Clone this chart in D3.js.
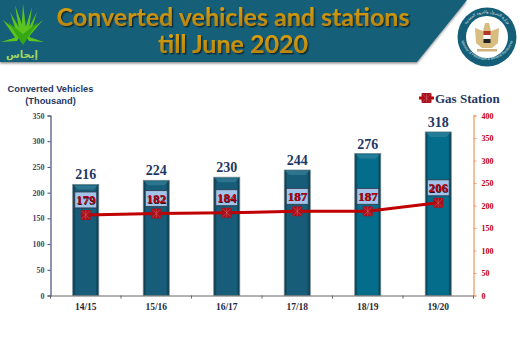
<!DOCTYPE html>
<html lang="en">
<head>
<meta charset="UTF-8">
<title>Converted vehicles and stations</title>
<script src="https://d3js.org/d3.v7.min.js"></script>
<style>
    html, body { margin: 0; padding: 0; background: #fff; }
    svg { display: block; }
    text { font-family: "Liberation Serif", serif; }
</style>
</head>
<body>
<svg id="chart" width="520" height="360"></svg>
<script>
    const seasons = ["14/15", "15/16", "16/17", "17/18", "18/19", "19/20"];
    const vehicles = [216, 224, 230, 244, 276, 318];
    const stations = [179, 182, 184, 187, 187, 206];
    const vehicleTicks = [0, 50, 100, 150, 200, 250, 300, 350];
    const stationTicks = [0, 50, 100, 150, 200, 250, 300, 350, 400];
    const titleLines = ["Converted vehicles and stations", "till June 2020"];

    const plotLeft = 50.5, plotRight = 473.5, plotTop = 115.5, plotBottom = 295.5;
    const svg = d3.select("#chart");
    const defs = svg.append("defs");

    // bar shading, dark at the edges
    function barGradient(id, mid) {
        const g = defs.append("linearGradient").attr("id", id);
        g.append("stop").attr("offset", "0%").attr("stop-color", "#0c2f3e");
        g.append("stop").attr("offset", "12%").attr("stop-color", mid);
        g.append("stop").attr("offset", "88%").attr("stop-color", mid);
        g.append("stop").attr("offset", "100%").attr("stop-color", "#08303f");
    }
    barGradient("barOld", "#175c78");
    barGradient("barNew", "#046d8c");

    const shadow = defs.append("filter").attr("id", "titleShadow")
        .attr("x", "-5%").attr("y", "-20%").attr("width", "110%").attr("height", "140%");
    shadow.append("feDropShadow").attr("dx", 1.5).attr("dy", 1.5).attr("stdDeviation", 0.6)
        .attr("flood-color", "#0a2530").attr("flood-opacity", 0.9);

    const headerShadow = defs.append("filter").attr("id", "headerShadow")
        .attr("x", "-2%").attr("y", "-5%").attr("width", "104%").attr("height", "115%");
    headerShadow.append("feDropShadow").attr("dx", 0).attr("dy", 1.5).attr("stdDeviation", 0.8)
        .attr("flood-color", "#000").attr("flood-opacity", 0.45);

    const titleGold = defs.append("linearGradient").attr("id", "titleGold")
        .attr("x1", 0).attr("y1", 0).attr("x2", 0).attr("y2", 1);
    titleGold.append("stop").attr("offset", "0%").attr("stop-color", "#e0a80f");
    titleGold.append("stop").attr("offset", "100%").attr("stop-color", "#b07f08");

    // header banner
    svg.append("path").attr("d", "M0,0H467L417,62H0Z")
        .attr("fill", "#155e78").attr("filter", "url(#headerShadow)");

    svg.selectAll(".title").data(titleLines).enter().append("text")
        .attr("class", "title")
        .attr("x", 233).attr("y", (d, i) => 25.5 + i * 27.5)
        .attr("text-anchor", "middle")
        .attr("fill", "url(#titleGold)")
        .attr("filter", "url(#titleShadow)")
        .style("font-family", "Lato, sans-serif")
        .style("font-weight", "700")
        .style("font-size", "25px")
        .text(d => d);

    // green logo, top left
    const logo = svg.append("g");
    const spikes = [
        "M3,20L23,36L16,39Z", "M10,12L25,38L18,38Z", "M15,5L26,36L20,36Z", "M23,4L27,36L21,36Z",
        "M32,7L28,37L23,36Z", "M37,12L29,38L24,37Z", "M43,20L27,39L22,37Z", "M1,42L20,36L17,41Z", "M44,42L26,36L29,41Z"
    ];
    logo.selectAll(".spike").data(spikes).enter().append("path")
        .attr("d", d => d).attr("fill", "#5cc41f");
    logo.append("path").attr("d", "M8,22L23,45L38,22L23,34Z").attr("fill", "#37a814");
    logo.append("text").attr("x", 22).attr("y", 58).attr("text-anchor", "middle")
        .attr("fill", "#a4d65e").style("font-family", "DejaVu Sans, sans-serif")
        .style("font-size", "10px").style("font-weight", "700").text("إيجاس");

    // ministry emblem, top right
    const emblem = svg.append("g").attr("transform", "translate(487,37)");
    emblem.append("circle").attr("r", 29.5).attr("fill", "#155e78");
    emblem.append("circle").attr("r", 21).attr("fill", "#fff");
    defs.append("path").attr("id", "ringTop").attr("d", "M-24,8A25,25 0 1 1 24,8");
    defs.append("path").attr("id", "ringBottom").attr("d", "M-27,-4A27,27 0 0 0 27,-4");
    emblem.append("text").attr("fill", "#dfe9ee").style("font-size", "4px")
        .style("font-family", "DejaVu Sans, sans-serif")
        .append("textPath").attr("href", "#ringTop").attr("startOffset", "50%").attr("text-anchor", "middle")
        .text("وزارة البترول والثروة المعدنية");
    emblem.append("text").attr("fill", "#dfe9ee").style("font-size", "3.6px")
        .style("font-family", "Liberation Sans, sans-serif")
        .append("textPath").attr("href", "#ringBottom").attr("startOffset", "50%").attr("text-anchor", "middle")
        .text("Ministry of Petroleum & Mineral Resources");
    emblem.append("path").attr("d", "M-12,-9L-4,-6L-2,-14L2,-14L4,-6L12,-9L11,6L5,11L-5,11L-11,6Z").attr("fill", "#d8bd80");
    emblem.append("rect").attr("x", -3.5).attr("y", -6).attr("width", 7).attr("height", 4).attr("fill", "#b5342a");
    emblem.append("rect").attr("x", -3.5).attr("y", -2).attr("width", 7).attr("height", 4).attr("fill", "#fff");
    emblem.append("rect").attr("x", -3.5).attr("y", 2).attr("width", 7).attr("height", 4).attr("fill", "#222");
    emblem.append("rect").attr("x", -10).attr("y", 12).attr("width", 20).attr("height", 2.5).attr("fill", "#cdb27a");

    // scales
    const x = d3.scaleBand().domain(seasons).range([plotLeft, plotRight]);
    const yLeft = d3.scaleLinear().domain([0, 350]).range([plotBottom, plotTop]);
    const yRight = d3.scaleLinear().domain([0, 400]).range([plotBottom, plotTop]);
    const barW = 26;
    const cx = d => x(d) + x.bandwidth() / 2;

    // y axis title
    svg.selectAll(".ytitle").data(["Converted Vehicles", "(Thousand)"]).enter().append("text")
        .attr("class", "ytitle")
        .attr("x", 50.5).attr("y", (d, i) => 92 + i * 11.5)
        .attr("text-anchor", "middle").attr("fill", "#1f3864")
        .style("font-family", "Liberation Sans, sans-serif")
        .style("font-weight", "700").style("font-size", "9.3px")
        .text(d => d);

    // bars
    svg.selectAll(".bar").data(seasons).enter().append("rect")
        .attr("class", "bar")
        .attr("x", d => cx(d) - barW / 2)
        .attr("y", (d, i) => yLeft(vehicles[i]))
        .attr("width", barW)
        .attr("height", (d, i) => plotBottom - yLeft(vehicles[i]))
        .attr("fill", (d, i) => i < 4 ? "url(#barOld)" : "url(#barNew)")
        .attr("stroke", "#6f8790").attr("stroke-width", 0.8);

    // little bevel at the top of each bar
    svg.selectAll(".bevel").data(seasons).enter().append("path")
        .attr("class", "bevel")
        .attr("d", (d, i) => {
            const t = yLeft(vehicles[i]) + 1;
            const c = cx(d);
            return `M${c - barW / 2 + 1},${t}H${c + barW / 2 - 1}L${c + barW / 2 - 5},${t + 4}H${c - barW / 2 + 5}Z`;
        })
        .attr("fill", "#3f8aa3").attr("opacity", 0.55);

    // axes
    const axisLeft = svg.append("g").attr("transform", `translate(${plotLeft},0)`)
        .call(d3.axisLeft(yLeft).tickValues(vehicleTicks).tickSize(3).tickPadding(3));
    axisLeft.select(".domain").attr("stroke", "#3f4f7a").attr("stroke-width", 1.2);
    axisLeft.selectAll("line").attr("stroke", "#3f4f7a");
    axisLeft.selectAll("text").attr("fill", "#3d4a6b")
        .style("font-family", "Liberation Serif, serif").style("font-weight", "700").style("font-size", "8px");

    const axisRight = svg.append("g").attr("transform", `translate(${plotRight},0)`)
        .call(d3.axisRight(yRight).tickValues(stationTicks).tickSize(3).tickPadding(5));
    axisRight.select(".domain").attr("stroke", "#f4b183").attr("stroke-width", 1.6);
    axisRight.selectAll("line").attr("stroke", "#f4a070");
    axisRight.selectAll("text").attr("fill", "#c00000")
        .style("font-family", "Liberation Serif, serif").style("font-weight", "700").style("font-size", "8px");

    const axisBottom = svg.append("g").attr("transform", `translate(0,${plotBottom})`)
        .call(d3.axisBottom(x).tickSize(0).tickPadding(8));
    axisBottom.select(".domain").attr("stroke", "#666").attr("stroke-width", 1);
    axisBottom.selectAll("text").attr("fill", "#1f2a3d")
        .style("font-family", "Liberation Serif, serif").style("font-weight", "700").style("font-size", "9.5px");
    // x ticks sit between the categories
    svg.selectAll(".xtick").data(seasons.concat("end")).enter().append("line")
        .attr("class", "xtick")
        .attr("x1", (d, i) => plotLeft + i * x.step()).attr("x2", (d, i) => plotLeft + i * x.step())
        .attr("y1", plotBottom).attr("y2", plotBottom + 3)
        .attr("stroke", "#666");

    // vehicle values above the bars
    svg.selectAll(".barlabel").data(seasons).enter().append("text")
        .attr("class", "barlabel")
        .attr("x", cx).attr("y", (d, i) => yLeft(vehicles[i]) - 5)
        .attr("text-anchor", "middle").attr("fill", "#1f3864")
        .style("font-weight", "700").style("font-size", "14px")
        .text((d, i) => vehicles[i]);

    // gas station line
    const line = d3.line().x(cx).y((d, i) => yRight(stations[i]));
    svg.append("path").datum(seasons).attr("d", line)
        .attr("fill", "none").attr("stroke", "#c00000").attr("stroke-width", 3);

    function marker(sel, px, py) {
        sel.append("rect").attr("x", px - 5).attr("y", py - 5).attr("width", 10).attr("height", 10)
            .attr("rx", 1).attr("fill", "#a8101c");
        sel.append("path")
            .attr("d", `M${px - 4},${py - 4}L${px + 4},${py + 4}M${px - 4},${py + 4}L${px + 4},${py - 4}M${px},${py - 4.5}V${py + 4.5}`)
            .attr("stroke", "#d96a6a").attr("stroke-width", 0.5);
    }
    seasons.forEach((d, i) => marker(svg.append("g"), cx(d), yRight(stations[i])));

    // station value boxes
    svg.selectAll(".box").data(seasons).enter().append("rect")
        .attr("class", "box")
        .attr("x", d => cx(d) - 11).attr("y", (d, i) => yRight(stations[i]) - 23)
        .attr("width", 22).attr("height", 16)
        .attr("fill", "#a3c4ea").attr("stroke", "#2f3d4c").attr("stroke-width", 0.9);
    svg.selectAll(".stationlabel").data(seasons).enter().append("text")
        .attr("class", "stationlabel")
        .attr("x", cx).attr("y", (d, i) => yRight(stations[i]) - 10.5)
        .attr("text-anchor", "middle").attr("fill", "#b00010")
        .style("font-weight", "700").style("font-size", "13px")
        .style("text-shadow", "0.6px 0.6px 0 #2a1015")
        .text((d, i) => stations[i]);

    // legend
    const legend = svg.append("g");
    legend.append("line").attr("x1", 419).attr("x2", 434).attr("y1", 98).attr("y2", 98)
        .attr("stroke", "#c00000").attr("stroke-width", 3);
    marker(legend, 426.5, 98);
    legend.append("text").attr("x", 435).attr("y", 102.5).attr("fill", "#1f3864")
        .style("font-weight", "700").style("font-size", "13px").text("Gas Station");
</script>
</body>
</html>
